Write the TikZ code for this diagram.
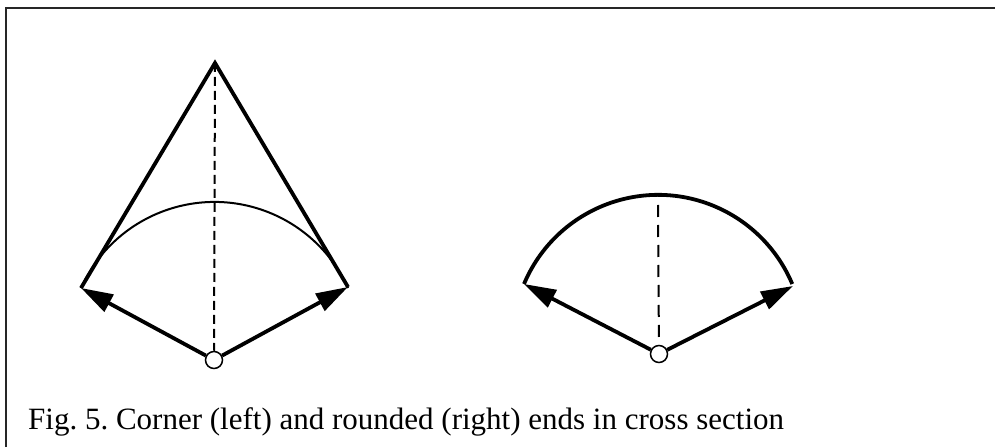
\documentclass[tikz,border=0pt]{standalone}
\usepackage{fontspec}
\setmainfont{Liberation Serif}
\usetikzlibrary{arrows.meta,positioning,calc}

\begin{document}
\begin{tikzpicture}[
    x=1pt, y=1pt,
    frame/.style={line width=2.5pt, draw=black!85},
    side/.style={line width=3.8pt, line join=miter},
    thinarc/.style={line width=2pt},
    thickarc/.style={line width=3.8pt},
    axis/.style={line width=2pt},
    hub/.style={circle, draw, line width=1.5pt, fill=white, inner sep=0pt, minimum size=17pt},
    arrow/.style={-{Triangle[length=32pt, width=19pt]}, line width=3.8pt},
    caption/.style={font=\fontsize{31}{36}\selectfont\frenchspacing, inner sep=0pt}
]
\useasboundingbox (0,0) rectangle (995,447);
\draw[frame] (6,0) -- (6,439) -- (995,439);

\node[hub] (hub_left) at (214,87) {};
\coordinate (apex) at (215,384);
\coordinate (corner_l) at (81,159);
\coordinate (corner_r) at (348,160);
\draw[axis, dash pattern=on 9pt off 5pt] (apex) -- (hub_left);
\draw[side] (corner_l) -- (apex) -- (corner_r);
\draw[thinarc] (corner_l) arc[start angle=155.6, end angle=24.4, radius=146.6];
\draw[arrow] (hub_left) -- (corner_l);
\draw[arrow] (hub_left) -- (corner_r);

\node[hub] (hub_right) at (659,93) {};
\coordinate (crown) at (658,242);
\coordinate (end_l) at (524,163);
\coordinate (end_r) at (793,161);
\draw[axis, dash pattern=on 12pt off 8pt] (crown) -- (hub_right);
\draw[thickarc] (end_l) arc[start angle=157.2, end angle=22.8, radius=145.5];
\draw[arrow] (hub_right) -- (end_l);
\draw[arrow] (hub_right) -- (end_r);

\node[caption, anchor=base west] (fig_caption) at (28,18) {Fig. 5. Corner (left) and rounded (right) ends in cross section};
\end{tikzpicture}
\end{document}
